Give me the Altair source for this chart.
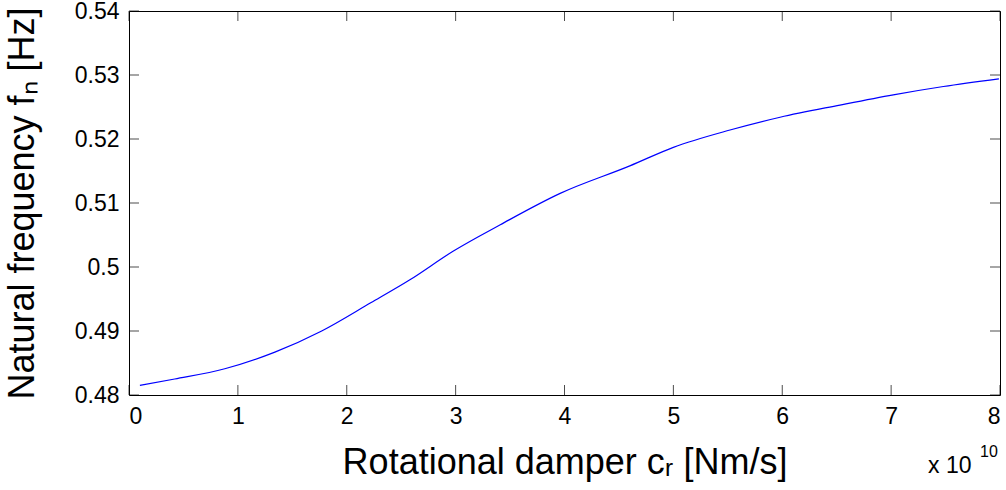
import altair as alt
import pandas as pd

# Curve (x in units of 1e10 Nm/s)
damper = [0.10, 0.42, 0.88, 1.34, 1.77, 2.22, 2.58, 2.98, 3.41, 3.96,
          4.60, 5.00, 5.52, 5.98, 6.53, 7.02, 7.48, 7.99]
freq = [0.4815, 0.4825, 0.4841, 0.4867, 0.4900, 0.4944, 0.4980, 0.5025, 0.5066,
        0.5115, 0.5158, 0.5187, 0.5214, 0.5234, 0.5253, 0.5269, 0.5282, 0.5294]

x_ticks = [0, 1, 2, 3, 4, 5, 6, 7, 8]
y_ticks = [0.48, 0.49, 0.50, 0.51, 0.52, 0.53, 0.54]
x_dom = [0, 8]
y_dom = [0.48, 0.54]

FONT = "Liberation Sans"

df = pd.DataFrame({"x": damper, "y": freq})
xt = pd.DataFrame({"x": x_ticks})
yt = pd.DataFrame({"y": y_ticks})

xs = alt.Scale(domain=x_dom, nice=False, zero=False)
ys = alt.Scale(domain=y_dom, nice=False, zero=False)

x_axis = alt.Axis(values=x_ticks, format="d", ticks=False, tickSize=0,
                  domain=False, grid=False, labelPadding=10,
                  labelFontSize=23, labelFont=FONT, labelColor="#000",
                  title="Rotational damper cᵣ [Nm/s]",
                  titleFont=FONT, titleFontSize=36, titleFontWeight="normal",
                  titleColor="#000", titleBaseline="alphabetic", titleY=78)
y_axis = alt.Axis(values=y_ticks, format=".2~f", ticks=False, tickSize=0,
                  domain=False, grid=False, labelPadding=10,
                  labelFontSize=23, labelFont=FONT, labelColor="#000",
                  title="Natural frequency fₙ [Hz]",
                  titleFont=FONT, titleFontSize=36, titleFontWeight="normal",
                  titleColor="#000", titleBaseline="alphabetic", titleX=-96)

line = alt.Chart(df).mark_line(color="#0000ff", strokeWidth=1.2,
                               interpolate="monotone").encode(
    x=alt.X("x:Q", scale=xs, axis=x_axis),
    y=alt.Y("y:Q", scale=ys, axis=y_axis),
)

def vticks(yval, off):
    return alt.Chart(xt).mark_tick(orient="vertical", size=10, thickness=1,
                                   color="#000", yOffset=off).encode(
        x=alt.X("x:Q", scale=xs, axis=x_axis),
        y=alt.YDatum(yval, scale=ys),
    )

def hticks(xval, off):
    return alt.Chart(yt).mark_tick(orient="horizontal", size=10, thickness=1,
                                   color="#000", xOffset=off).encode(
        y=alt.Y("y:Q", scale=ys, axis=y_axis),
        x=alt.XDatum(xval, scale=xs),
    )

exp_base = alt.Chart(pd.DataFrame({"a": [1]})).mark_text(
    text="x 10", font=FONT, fontSize=23, align="left", baseline="alphabetic",
    color="#000").encode(x=alt.value(799), y=alt.value(462))
exp_sup = alt.Chart(pd.DataFrame({"a": [1]})).mark_text(
    text="10", font=FONT, fontSize=16, align="left", baseline="alphabetic",
    color="#000").encode(x=alt.value(851), y=alt.value(446))

chart = alt.layer(
    line,
    vticks(y_dom[0], -5), vticks(y_dom[1], 5),
    hticks(x_dom[0], 5), hticks(x_dom[1], -5),
    exp_base, exp_sup,
).properties(
    width=871, height=384,
    autosize=alt.AutoSizeParams(type="none"),
    padding={"left": 129, "top": 11, "right": 6, "bottom": 95},
    background="white",
).configure_view(stroke="#000", strokeWidth=1)

chart.save("out.html", embed_options={"renderer": "svg", "actions": False})
